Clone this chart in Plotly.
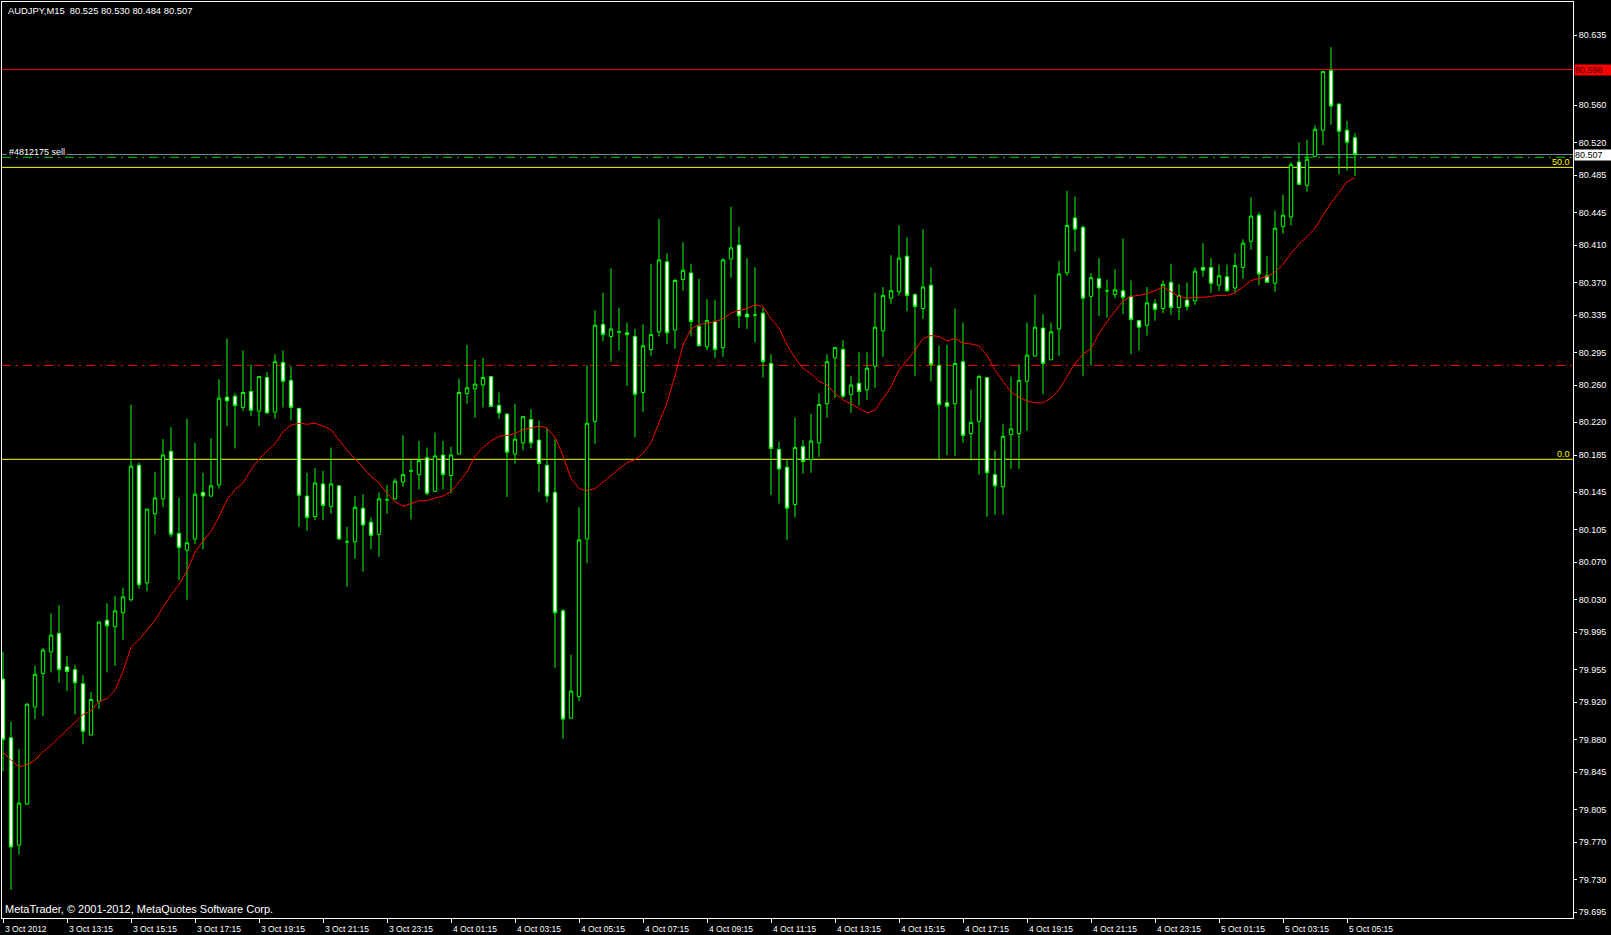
import plotly.graph_objects as go

# ---------------- data (AUDJPY M15, 3 Oct 11:15 .. 5 Oct 05:30) ----------------
opens = [79.945, 79.882, 79.767, 79.811, 79.915, 79.951, 79.974, 79.994, 79.958, 79.955,
         79.940, 79.885, 79.921, 80.008, 80.001, 80.016, 80.030, 80.174, 80.048, 80.122,
         80.138, 80.189, 80.101, 80.083, 80.095, 80.145, 80.141, 80.153, 80.247, 80.248,
         80.236, 80.253, 80.232, 80.268, 80.231, 80.284, 80.265, 80.235, 80.141, 80.119,
         80.154, 80.130, 80.152, 80.092, 80.092, 80.128, 80.113, 80.100, 80.137, 80.138,
         80.156, 80.168, 80.164, 80.182, 80.146, 80.185, 80.163, 80.186, 80.251, 80.256,
         80.260, 80.269, 80.238, 80.229, 80.186, 80.198, 80.223, 80.201, 80.174, 80.145,
         80.018, 79.903, 79.926, 80.095, 80.221, 80.325, 80.312, 80.317, 80.316, 80.312,
         80.252, 80.298, 80.317, 80.392, 80.319, 80.373, 80.380, 80.323, 80.301, 80.328,
         80.300, 80.395, 80.410, 80.336, 80.335, 80.337, 80.283, 80.191, 80.172, 80.132,
         80.194, 80.180, 80.198, 80.240, 80.289, 80.298, 80.250, 80.262, 80.255, 80.280,
         80.318, 80.353, 80.360, 80.398, 80.357, 80.342, 80.367, 80.281, 80.241, 80.240,
         80.285, 80.208, 80.221, 80.268, 80.164, 80.151, 80.207, 80.208, 80.264, 80.291,
         80.321, 80.287, 80.320, 80.380, 80.439, 80.429, 80.355, 80.374, 80.361, 80.357,
         80.361, 80.355, 80.329, 80.324, 80.347, 80.342, 80.370, 80.343, 80.351, 80.350,
         80.386, 80.386, 80.367, 80.376, 80.364, 80.386, 80.414, 80.442, 80.377, 80.369,
         80.430, 80.440, 80.499, 80.474, 80.505, 80.533, 80.597, 80.561, 80.533, 80.525]
highs = [79.974, 79.899, 79.870, 79.919, 79.959, 79.978, 80.015, 80.024, 79.970, 79.960,
         79.949, 79.931, 80.006, 80.026, 80.034, 80.043, 80.239, 80.177, 80.127, 80.167,
         80.202, 80.215, 80.139, 80.224, 80.198, 80.166, 80.203, 80.266, 80.310, 80.251,
         80.297, 80.282, 80.269, 80.274, 80.293, 80.297, 80.280, 80.235, 80.166, 80.171,
         80.168, 80.193, 80.152, 80.108, 80.141, 80.143, 80.118, 80.145, 80.153, 80.160,
         80.206, 80.180, 80.200, 80.193, 80.209, 80.200, 80.194, 80.267, 80.303, 80.287,
         80.289, 80.269, 80.252, 80.229, 80.240, 80.227, 80.234, 80.222, 80.214, 80.202,
         80.020, 79.971, 80.129, 80.281, 80.340, 80.359, 80.385, 80.343, 80.327, 80.320,
         80.325, 80.390, 80.438, 80.401, 80.374, 80.413, 80.390, 80.374, 80.352, 80.351,
         80.396, 80.451, 80.430, 80.396, 80.386, 80.343, 80.293, 80.199, 80.180, 80.225,
         80.201, 80.229, 80.251, 80.293, 80.301, 80.308, 80.270, 80.295, 80.295, 80.359,
         80.365, 80.399, 80.431, 80.418, 80.358, 80.427, 80.386, 80.302, 80.303, 80.342,
         80.327, 80.255, 80.271, 80.268, 80.190, 80.218, 80.269, 80.282, 80.327, 80.357,
         80.336, 80.327, 80.393, 80.468, 80.462, 80.431, 80.380, 80.396, 80.373, 80.384,
         80.417, 80.372, 80.329, 80.365, 80.352, 80.372, 80.390, 80.368, 80.370, 80.386,
         80.412, 80.396, 80.389, 80.389, 80.401, 80.416, 80.461, 80.445, 80.398, 80.447,
         80.464, 80.499, 80.520, 80.523, 80.538, 80.596, 80.622, 80.562, 80.543, 80.530]
lows = [79.846, 79.719, 79.757, 79.810, 79.902, 79.905, 79.952, 79.941, 79.932, 79.907,
        79.875, 79.885, 79.913, 79.952, 79.959, 79.987, 80.028, 80.042, 80.039, 80.100,
        80.129, 80.097, 80.051, 80.030, 80.090, 80.084, 80.140, 80.149, 80.216, 80.192,
        80.232, 80.227, 80.216, 80.230, 80.224, 80.236, 80.222, 80.108, 80.104, 80.115,
        80.115, 80.122, 80.094, 80.044, 80.074, 80.060, 80.084, 80.076, 80.122, 80.138,
        80.151, 80.116, 80.148, 80.142, 80.146, 80.148, 80.144, 80.186, 80.240, 80.225,
        80.236, 80.237, 80.224, 80.140, 80.176, 80.190, 80.192, 80.145, 80.134, 79.957,
        79.881, 79.903, 79.921, 80.069, 80.197, 80.307, 80.285, 80.297, 80.259, 80.204,
        80.231, 80.291, 80.312, 80.304, 80.299, 80.361, 80.312, 80.302, 80.297, 80.289,
        80.290, 80.375, 80.321, 80.320, 80.306, 80.268, 80.142, 80.133, 80.094, 80.118,
        80.165, 80.166, 80.183, 80.225, 80.246, 80.246, 80.230, 80.238, 80.244, 80.257,
        80.290, 80.347, 80.356, 80.339, 80.270, 80.331, 80.264, 80.180, 80.185, 80.184,
        80.198, 80.179, 80.164, 80.119, 80.121, 80.121, 80.170, 80.170, 80.211, 80.291,
        80.250, 80.287, 80.291, 80.377, 80.403, 80.270, 80.281, 80.334, 80.332, 80.353,
        80.336, 80.293, 80.297, 80.313, 80.329, 80.337, 80.335, 80.330, 80.340, 80.346,
        80.376, 80.359, 80.361, 80.360, 80.358, 80.374, 80.405, 80.367, 80.370, 80.360,
        80.422, 80.431, 80.475, 80.467, 80.504, 80.517, 80.539, 80.486, 80.490, 80.484]
closes = [79.880, 79.765, 79.812, 79.918, 79.950, 79.976, 79.992, 79.955, 79.953, 79.941,
          79.889, 79.923, 80.006, 80.002, 80.018, 80.033, 80.173, 80.046, 80.127, 80.139,
          80.185, 80.100, 80.086, 80.091, 80.143, 80.141, 80.152, 80.246, 80.243, 80.238,
          80.252, 80.233, 80.269, 80.230, 80.285, 80.264, 80.236, 80.142, 80.118, 80.155,
          80.131, 80.154, 80.095, 80.092, 80.129, 80.110, 80.099, 80.138, 80.137, 80.157,
          80.164, 80.168, 80.179, 80.144, 80.184, 80.164, 80.185, 80.252, 80.257, 80.261,
          80.268, 80.237, 80.230, 80.188, 80.202, 80.226, 80.198, 80.176, 80.141, 80.016,
          79.902, 79.932, 80.094, 80.219, 80.324, 80.314, 80.320, 80.317, 80.314, 80.250,
          80.302, 80.314, 80.394, 80.316, 80.372, 80.383, 80.328, 80.302, 80.329, 80.298,
          80.394, 80.407, 80.334, 80.333, 80.335, 80.285, 80.192, 80.170, 80.128, 80.193,
          80.178, 80.200, 80.239, 80.285, 80.300, 80.248, 80.260, 80.253, 80.278, 80.322,
          80.356, 80.361, 80.396, 80.356, 80.344, 80.365, 80.282, 80.239, 80.237, 80.283,
          80.206, 80.220, 80.269, 80.166, 80.152, 80.205, 80.213, 80.265, 80.292, 80.322,
          80.283, 80.317, 80.379, 80.431, 80.427, 80.353, 80.375, 80.364, 80.361, 80.362,
          80.354, 80.330, 80.322, 80.348, 80.341, 80.368, 80.343, 80.356, 80.344, 80.382,
          80.383, 80.369, 80.377, 80.361, 80.388, 80.412, 80.441, 80.379, 80.370, 80.428,
          80.442, 80.496, 80.475, 80.502, 80.534, 80.596, 80.559, 80.532, 80.520, 80.507]
ma_values = [79.867, 79.858, 79.851, 79.853, 79.858, 79.867, 79.874, 79.882, 79.891, 79.899,
             79.907, 79.911, 79.921, 79.924, 79.933, 79.953, 79.979, 79.987, 79.998, 80.008,
             80.022, 80.035, 80.046, 80.061, 80.081, 80.093, 80.103, 80.119, 80.137, 80.148,
             80.155, 80.169, 80.181, 80.189, 80.197, 80.210, 80.217, 80.219, 80.218, 80.219,
             80.216, 80.212, 80.201, 80.190, 80.181, 80.172, 80.162, 80.155, 80.144, 80.135,
             80.130, 80.133, 80.136, 80.136, 80.139, 80.141, 80.146, 80.156, 80.167, 80.184,
             80.193, 80.200, 80.205, 80.206, 80.208, 80.212, 80.214, 80.216, 80.214, 80.204,
             80.184, 80.160, 80.149, 80.147, 80.149, 80.156, 80.162, 80.169, 80.177, 80.180,
             80.187, 80.198, 80.219, 80.241, 80.270, 80.303, 80.320, 80.325, 80.326, 80.328,
             80.331, 80.337, 80.340, 80.342, 80.346, 80.344, 80.331, 80.321, 80.303, 80.289,
             80.278, 80.272, 80.264, 80.260, 80.251, 80.244, 80.240, 80.235, 80.230, 80.233,
             80.246, 80.258, 80.276, 80.287, 80.297, 80.310, 80.313, 80.312, 80.307, 80.310,
             80.305, 80.304, 80.302, 80.292, 80.276, 80.264, 80.252, 80.247, 80.243, 80.241,
             80.241, 80.246, 80.255, 80.269, 80.283, 80.293, 80.299, 80.315, 80.328, 80.339,
             80.350, 80.355, 80.356, 80.358, 80.361, 80.365, 80.360, 80.355, 80.353, 80.354,
             80.354, 80.355, 80.356, 80.356, 80.359, 80.365, 80.372, 80.374, 80.376, 80.381,
             80.389, 80.401, 80.411, 80.419, 80.428, 80.442, 80.455, 80.466, 80.478, 80.482]

time_label_bars = [0, 8, 16, 24, 32, 40, 48, 56, 64, 72, 80, 88, 96, 104, 112, 120,
                   128, 136, 144, 152, 160, 168]
time_labels = ["3 Oct 2012", "3 Oct 13:15", "3 Oct 15:15", "3 Oct 17:15", "3 Oct 19:15",
               "3 Oct 21:15", "3 Oct 23:15", "4 Oct 01:15", "4 Oct 03:15", "4 Oct 05:15",
               "4 Oct 07:15", "4 Oct 09:15", "4 Oct 11:15", "4 Oct 13:15", "4 Oct 15:15",
               "4 Oct 17:15", "4 Oct 19:15", "4 Oct 21:15", "4 Oct 23:15", "5 Oct 01:15",
               "5 Oct 03:15", "5 Oct 05:15"]
price_ticks = [80.635, 80.560, 80.520, 80.485, 80.445, 80.410, 80.370, 80.335,
               80.295, 80.260, 80.220, 80.185, 80.145, 80.105, 80.070, 80.030, 79.995,
               79.955, 79.920, 79.880, 79.845, 79.805, 79.770, 79.730, 79.695]

red_level = 80.598
bid_price = 80.507
order_price = 80.504
order_label = "#4812175 sell"
fib_levels = [80.4932, 80.1804]
fib_labels = ["50.0", "0.0"]
tp_level = 80.281
header = "AUDJPY,M15  80.525 80.530 80.484 80.507"
copyright_text = "MetaTrader, © 2001-2012, MetaQuotes Software Corp."

bar_index = list(range(len(opens)))
FONT = "Liberation Sans, Arial, sans-serif"
GREEN = "#00FF00"

fig = go.Figure()
fig.add_trace(go.Candlestick(
    x=bar_index, open=opens, high=highs, low=lows, close=closes,
    increasing=dict(line=dict(color=GREEN, width=1), fillcolor="black"),
    decreasing=dict(line=dict(color=GREEN, width=1), fillcolor="white"),
    whiskerwidth=0, showlegend=False, hoverinfo="skip"))
fig.add_trace(go.Scatter(
    x=bar_index, y=ma_values, mode="lines",
    line=dict(color="#FF0000", width=1), showlegend=False, hoverinfo="skip"))

x_lo, x_hi = -0.125, 196.25
y_lo, y_hi = 79.6889, 80.6704

shapes = []
def hline(y, color, dash="solid", x0=None, x1=None):
    d = dict(type="line", xref="x", yref="y",
             x0=x_lo if x0 is None else x0, x1=x_hi if x1 is None else x1,
             y0=y, y1=y, line=dict(color=color, width=1, dash=dash), layer="below")
    shapes.append(d)

hline(red_level, "#FF0000")
hline(tp_level, "#FF0000", dash="9px,5px,2px,5px")
for lv in fib_levels:
    hline(lv, "#FFFF00")
hline(order_price, "#00C800", dash="9px,5px,2px,5px")
hline(bid_price, "#778899", x0=x_lo, x1=0.45)
hline(bid_price, "#778899", x0=7.95, x1=x_hi)

annotations = []
# header / footer
annotations.append(dict(xref="paper", yref="paper", x=0, y=0.9905, xanchor="left",
                        yanchor="middle", xshift=4, text=header, showarrow=False,
                        font=dict(family=FONT, size=9.4, color="white")))
annotations.append(dict(xref="paper", yref="paper", x=0, y=0.0098, xanchor="left",
                        yanchor="middle", xshift=1, text=copyright_text, showarrow=False,
                        font=dict(family=FONT, size=11, color="white")))
# order label
annotations.append(dict(xref="x", yref="y", x=0.5, y=order_price, xanchor="left",
                        yanchor="bottom", yshift=-2, text=order_label, showarrow=False,
                        font=dict(family=FONT, size=9, color="white")))
# fib labels
for lv, lb in zip(fib_levels, fib_labels):
    annotations.append(dict(xref="paper", yref="y", x=1, y=lv, xanchor="right",
                            yanchor="bottom", xshift=-1, yshift=-2, text=lb, showarrow=False,
                            font=dict(family=FONT, size=9, color="#FFFF00")))
# price boxes on the right axis
annotations.append(dict(xref="paper", yref="y", x=1, y=red_level, xanchor="left",
                        yanchor="middle", xshift=1, text=f"{red_level:.3f}", showarrow=False,
                        bgcolor="#FF0000", borderpad=0, width=38, align="left",
                        font=dict(family=FONT, size=9, color="#400000")))
annotations.append(dict(xref="paper", yref="y", x=1, y=bid_price, xanchor="left",
                        yanchor="middle", xshift=1, text=f"{bid_price:.3f}", showarrow=False,
                        bgcolor="white", borderpad=0, width=38, align="left",
                        font=dict(family=FONT, size=9, color="black")))
# time axis labels
for b, lb in zip(time_label_bars, time_labels):
    annotations.append(dict(xref="x", yref="paper", x=b, y=-0.0115, xanchor="left",
                            yanchor="middle", xshift=0, text=lb, showarrow=False,
                            font=dict(family=FONT, size=8.5, color="white")))

fig.update_layout(
    width=1611, height=935, autosize=False,
    margin=dict(l=2, r=38, t=2, b=17, pad=0),
    paper_bgcolor="black", plot_bgcolor="black",
    boxgap=0.4,
    shapes=shapes, annotations=annotations,
    xaxis=dict(range=[x_lo, x_hi], rangeslider=dict(visible=False),
               tickvals=time_label_bars, showticklabels=False,
               ticks="outside", ticklen=4, tickcolor="white", tickwidth=1,
               showline=True, linecolor="white", linewidth=1, mirror=True,
               showgrid=False, zeroline=False, fixedrange=True),
    yaxis=dict(range=[y_lo, y_hi], side="right", tickvals=price_ticks,
               ticktext=[f"{v:.3f}" for v in price_ticks],
               ticks="outside", ticklen=3, tickcolor="white", tickwidth=1,
               tickfont=dict(family=FONT, size=9, color="white"),
               showline=True, linecolor="white", linewidth=1, mirror=True,
               showgrid=False, zeroline=False, fixedrange=True),
    showlegend=False,
)

fig.write_html("out.html", config={"displayModeBar": False},
               post_script="document.body.style.margin='0';document.body.style.background='black';")
